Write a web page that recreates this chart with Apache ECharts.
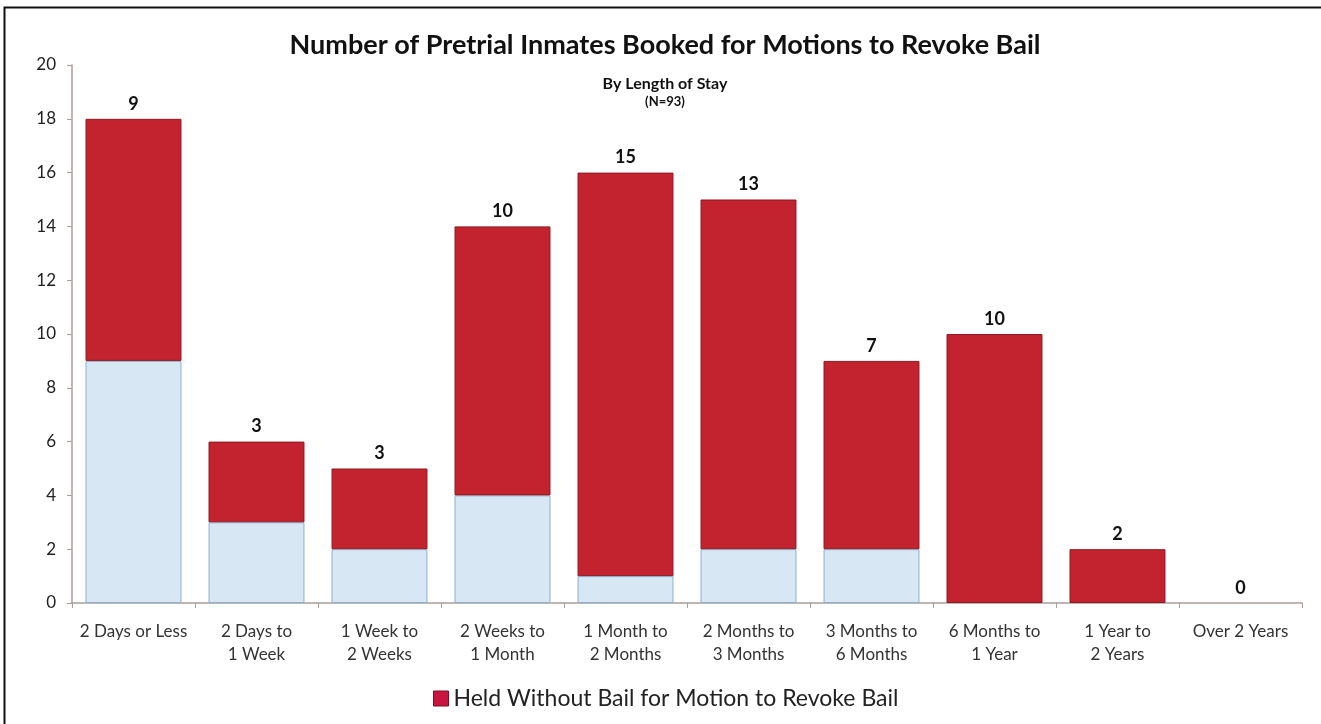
<!DOCTYPE html>
<html>
<head>
<meta charset="utf-8">
<script src="https://cdn.jsdelivr.net/npm/echarts@6/dist/echarts.min.js"></script>
<style>
html,body{margin:0;padding:0;background:#fff;}
#chart{width:1321px;height:724px;}
</style>
</head>
<body>
<div id="chart"></div>
<script>
var categories = ['2 Days or Less','2 Days to\n1 Week','1 Week to\n2 Weeks','2 Weeks to\n1 Month','1 Month to\n2 Months','2 Months to\n3 Months','3 Months to\n6 Months','6 Months to\n1 Year','1 Year to\n2 Years','Over 2 Years'];
var otherValues = [9, 3, 2, 4, 1, 2, 2, 0, 0, 0];
var heldValues = [9, 3, 3, 10, 15, 13, 7, 10, 2, 0];
var yTicks = [0, 2, 4, 6, 8, 10, 12, 14, 16, 18, 20];
var titleText = 'Number of Pretrial Inmates Booked for Motions to Revoke Bail';
var subText1 = 'By Length of Stay';
var subText2 = '(N=93)';
var heldName = 'Held Without Bail for Motion to Revoke Bail';
var otherName = 'Other';

function noZeroBorder(arr){
  return arr.map(function(v){ return v === 0 ? {value:v, itemStyle:{borderWidth:0}} : v; });
}

var FONT = 'Lato, "Open Sans", sans-serif';
var chart = echarts.init(document.getElementById('chart'), null, {renderer:'canvas'});
chart.setOption({
  backgroundColor:'#fff',
  animation:false,
  textStyle:{fontFamily:FONT},
  graphic:[
    {type:'rect', shape:{x:4.5,y:7.5,width:1400,height:800}, style:{fill:'none',stroke:'#111',lineWidth:2}, silent:true},
    {type:'text', x:665, y:45, style:{text:titleText, font:'bold 27px '+FONT, fill:'#111', textAlign:'center', textVerticalAlign:'middle'}},
    {type:'text', x:665, y:84, style:{text:subText1, font:'bold 16px '+FONT, fill:'#111', textAlign:'center', textVerticalAlign:'middle'}},
    {type:'text', x:665, y:102, style:{text:subText2, font:'bold 13px '+FONT, fill:'#111', textAlign:'center', textVerticalAlign:'middle'}}
  ],
  legend:{
    data:[heldName],
    top:682,
    left:428,
    icon:'rect',
    itemWidth:15,
    itemHeight:15,
    itemGap:6,
    itemStyle:{color:'#c8143f',borderColor:'#7a0d22',borderWidth:1},
    textStyle:{fontSize:23,color:'#222',fontFamily:FONT}
  },
  grid:{left:72,right:19,top:65,bottom:121,containLabel:false},
  xAxis:{
    type:'category',
    data:categories,
    axisLine:{lineStyle:{color:'#a89f9a',width:1.5}},
    axisTick:{show:true,length:5,lineStyle:{color:'#a89f9a'}},
    axisLabel:{color:'#333',fontSize:17,lineHeight:23,margin:17,fontFamily:FONT,interval:0}
  },
  yAxis:{
    type:'value',
    min:0,max:20,interval:2,
    splitLine:{show:false},
    axisLine:{show:true,lineStyle:{color:'#a89f9a',width:1.5}},
    axisTick:{show:true,length:5,lineStyle:{color:'#a89f9a'}},
    axisLabel:{color:'#222',fontSize:17,margin:16,fontFamily:FONT,
      formatter:function(v){return yTicks.indexOf(v)>=0?String(v):'';}}
  },
  series:[
    {name:otherName,type:'bar',stack:'a',data:noZeroBorder(otherValues),barCategoryGap:'22%',
      itemStyle:{color:'#d8e7f4',borderColor:'#8eb0cf',borderWidth:1}},
    {name:heldName,type:'bar',stack:'a',data:noZeroBorder(heldValues),barCategoryGap:'22%',
      itemStyle:{color:'#c3222f',borderColor:'#8c1a22',borderWidth:1},
      label:{show:true,position:'top',distance:6,color:'#111',fontSize:18,fontWeight:'bold',fontFamily:FONT}}
  ]
});
</script>
</body>
</html>
